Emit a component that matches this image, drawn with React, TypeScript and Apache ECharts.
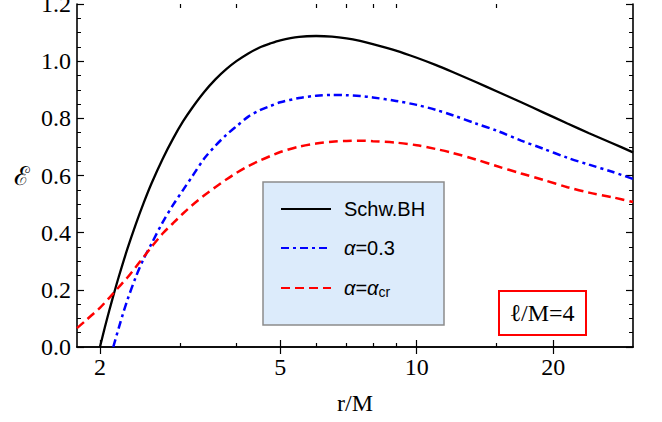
import React, { useEffect, useRef } from "react";
import * as echarts from "echarts";

// Data (r/M on a log axis, energy E)
const schwR = [2.0, 2.05, 2.1, 2.15, 2.2, 2.3, 2.4, 2.5, 2.6, 2.75, 2.9, 3.05, 3.2, 3.4, 3.6, 3.8, 4.0, 4.25, 4.5, 4.75, 5.0, 5.5, 6.0, 6.5, 7.0, 7.5, 8, 9, 10, 11, 12, 13.5, 15, 17, 19, 21.5, 24, 27, 30];
const schwE = [0, 0.068, 0.131, 0.19, 0.245, 0.344, 0.43, 0.506, 0.573, 0.658, 0.729, 0.789, 0.838, 0.893, 0.937, 0.972, 1.0, 1.027, 1.048, 1.062, 1.073, 1.085, 1.088, 1.086, 1.08, 1.071, 1.06, 1.037, 1.012, 0.987, 0.962, 0.927, 0.895, 0.856, 0.821, 0.782, 0.748, 0.713, 0.681];

const alphaR = [2.14, 2.2, 2.25, 2.3, 2.4, 2.5, 2.6, 2.75, 2.9, 3.05, 3.2, 3.4, 3.6, 3.8, 4.0, 4.25, 4.5, 4.75, 5.0, 5.5, 6.0, 6.5, 7.0, 7.5, 8, 9, 10, 11, 12, 13.5, 15, 17, 19, 21.5, 24, 27, 30];
const alphaE = [0, 0.066, 0.118, 0.165, 0.245, 0.31, 0.362, 0.436, 0.497, 0.549, 0.598, 0.66, 0.705, 0.742, 0.772, 0.806, 0.828, 0.843, 0.856, 0.871, 0.879, 0.882, 0.881, 0.878, 0.873, 0.861, 0.847, 0.83, 0.811, 0.782, 0.757, 0.722, 0.694, 0.662, 0.638, 0.613, 0.588];

const critR = [1.78, 1.85, 1.92, 2.0, 2.1, 2.2, 2.3, 2.4, 2.5, 2.6, 2.75, 2.9, 3.05, 3.2, 3.4, 3.6, 3.8, 4.0, 4.25, 4.5, 4.75, 5.0, 5.5, 6.0, 6.5, 7.0, 7.5, 8, 9, 10, 11, 12, 13.5, 15, 17, 19, 21.5, 24, 27, 30];
const critE = [0.066, 0.089, 0.112, 0.137, 0.173, 0.209, 0.243, 0.28, 0.316, 0.35, 0.397, 0.433, 0.467, 0.497, 0.531, 0.56, 0.586, 0.609, 0.633, 0.652, 0.668, 0.682, 0.701, 0.712, 0.718, 0.721, 0.722, 0.72, 0.715, 0.706, 0.693, 0.679, 0.656, 0.633, 0.607, 0.585, 0.559, 0.54, 0.524, 0.507];

const seriesNames = ["Schw.BH", "α=0.3", "α=αcr"];
const xMajorTicks = [2, 5, 10, 20];
const xMinorTicks = [3, 4, 6, 7, 8, 9, 15];
const xRange = [1.78, 30];
const yRange = [0, 1.2];
const yStep = 0.2;

const lg = (v: number) => Math.log10(v);
const pairs = (rs: number[], es: number[]) => rs.map((r, i) => [lg(r), es[i]]);

const SERIF = "Liberation Serif";
const SANS = "Liberation Sans";

export default function App() {
  const ref = useRef<HTMLDivElement>(null);
  useEffect(() => {
    const chart = echarts.init(ref.current!, null, { renderer: "svg" });
    const axisLine = { show: true, lineStyle: { color: "#000", width: 1.6 } };
    const labelStyle = { fontSize: 24, fontFamily: SERIF, color: "#000" };
    const mkX = (position: string, ticks: number[], len: number, main: boolean, lineShow: boolean) => ({
      type: "value",
      position,
      min: lg(xRange[0]),
      max: lg(xRange[1]),
      axisLine: lineShow ? axisLine : { show: false },
      axisTick: { show: true, inside: true, length: len, customValues: ticks.map(lg), lineStyle: { color: "#000", width: 1.2 } },
      axisLabel: main
        ? {
            show: true,
            customValues: ticks.map(lg),
            formatter: (v: number) => String(Math.round(Math.pow(10, v))),
            margin: 8,
            ...labelStyle,
          }
        : { show: false },
      splitLine: { show: false },
      ...(main
        ? {
            name: "r/M",
            nameLocation: "middle",
            nameGap: 44,
            nameTextStyle: { ...labelStyle },
          }
        : {}),
    });
    const mkY = (position: string, main: boolean) => ({
      type: "value",
      position,
      min: yRange[0],
      max: yRange[1],
      interval: yStep,
      axisLine,
      axisTick: { show: true, inside: true, length: 7, lineStyle: { color: "#000", width: 1.2 } },
      minorTick: { show: true, splitNumber: 4, length: 4, lineStyle: { color: "#000", width: 1 } },
      axisLabel: main
        ? {
            show: true,
            formatter: (v: number) => v.toFixed(1),
            margin: 6,
            ...labelStyle,
          }
        : { show: false },
      splitLine: { show: false },
      minorSplitLine: { show: false },
      ...(main
        ? {
            name: "ℰ",
            nameLocation: "middle",
            nameRotate: 0,
            nameGap: 47,
            nameTextStyle: { fontSize: 26, fontFamily: "DejaVu Serif", color: "#000" },
          }
        : {}),
    });

    const option: any = {
      animation: false,
      backgroundColor: "#fff",
      textStyle: { fontFamily: SERIF },
      grid: { left: 77, right: 29, top: 4, bottom: 75, containLabel: false, outerBoundsMode: "none" },
      xAxis: [
        mkX("bottom", xMajorTicks, 7, true, true),
        mkX("top", xMajorTicks, 7, false, true),
        mkX("bottom", xMinorTicks, 4, false, false),
        mkX("top", xMinorTicks, 4, false, false),
      ],
      yAxis: [mkY("left", true), mkY("right", false)],
      legend: {
        orient: "vertical",
        left: 280,
        top: 199,
        padding: 0,
        itemWidth: 50,
        itemHeight: 14,
        itemGap: 19,
        z: 5,
        data: seriesNames,
        itemStyle: { opacity: 0, color: "rgba(0,0,0,0)", borderWidth: 0 },
        formatter: (name: string) => {
          if (name === seriesNames[1]) return "{it|α}{n|=0.3}";
          if (name === seriesNames[2]) return "{it|α}{n|=}{it|α}{sub|cr}";
          return "{n|" + name + "}";
        },
        textStyle: {
          fontSize: 20,
          fontFamily: SANS,
          color: "#000",
          padding: [0, 0, 0, 8],
          rich: {
            n: { fontSize: 20, fontFamily: SANS, color: "#000", lineHeight: 24 },
            it: { fontSize: 20, fontFamily: SANS, fontStyle: "italic", color: "#000", lineHeight: 24 },
            sub: { fontSize: 14, fontFamily: SANS, color: "#000", lineHeight: 24, padding: [8, 0, 0, 0] },
          },
        },
      },
      graphic: [
        {
          type: "rect",
          z: 1,
          shape: { x: 263, y: 182, width: 181, height: 143 },
          style: { fill: "#dcebfb", stroke: "#8c8c8c", lineWidth: 1.5 },
        },
        {
          type: "rect",
          z: 1,
          shape: { x: 499, y: 291, width: 87, height: 44 },
          style: { fill: "#fff", stroke: "#ff0000", lineWidth: 2 },
        },
        {
          type: "text",
          z: 2,
          x: 542,
          y: 313,
          style: {
            text: "ℓ/M=4",
            fontSize: 24,
            fontFamily: SERIF,
            fill: "#000",
            textAlign: "center",
            align: "center",
            textVerticalAlign: "middle",
            verticalAlign: "middle",
          },
        },
      ],
      series: [
        {
          name: seriesNames[0],
          type: "line",
          xAxisIndex: 0,
          yAxisIndex: 0,
          symbol: "none",
          smooth: 0.3,
          z: 3,
          lineStyle: { color: "#000", width: 2.3, type: "solid" },
          itemStyle: { color: "#000" },
          data: pairs(schwR, schwE),
        },
        {
          name: seriesNames[1],
          type: "line",
          xAxisIndex: 0,
          yAxisIndex: 0,
          symbol: "none",
          smooth: 0.3,
          z: 3,
          lineStyle: { color: "#0000ff", width: 2.5, type: [8, 4, 3, 4] },
          itemStyle: { color: "#0000ff" },
          data: pairs(alphaR, alphaE),
        },
        {
          name: seriesNames[2],
          type: "line",
          xAxisIndex: 0,
          yAxisIndex: 0,
          symbol: "none",
          smooth: 0.3,
          z: 3,
          lineStyle: { color: "#ff0000", width: 2.5, type: [9, 5] },
          itemStyle: { color: "#ff0000" },
          data: pairs(critR, critE),
        },
      ],
    };
    chart.setOption(option);
    return () => chart.dispose();
  }, []);
  return <div ref={ref} style={{ position: "fixed", left: 0, top: 0, width: 662, height: 422 }} />;
}
